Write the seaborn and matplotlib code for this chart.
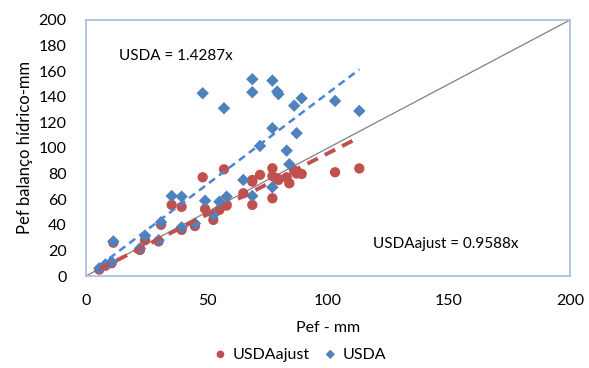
import numpy as np
import pandas as pd
import matplotlib
matplotlib.use("Agg")
import matplotlib.pyplot as plt
import seaborn as sns

# Data
pef = [5.5, 8, 10.6, 11.3, 22.3, 24.4, 30.0, 31.0, 35.4, 39.5, 39.5, 45.0,
       48.2, 49.2, 52.6, 55.1, 57.0, 58.1, 65.0, 68.7, 68.7, 68.7, 71.9,
       77.0, 77.0, 77.0, 79.0, 79.5, 82.9, 84.0, 86.0, 87.0, 89.1, 102.9, 112.9]
usda = [6, 9, 11, 27, 21.6, 31.5, 28, 42, 62.5, 62, 38, 41,
        142.7, 58.8, 47.7, 58, 131, 62, 75, 153.7, 143.5, 62.5, 101.6,
        152.6, 115.4, 69.3, 144, 142, 97.9, 87.3, 133, 111.5, 138.8, 136.7, 128.9]
usda_ajust = [5, 8, 10, 26, 20.3, 28, 27, 40, 55.5, 54, 36, 39,
              77.1, 52.3, 43.8, 51.6, 83.3, 55, 64.6, 75, 73.7, 55.5, 79,
              84.1, 78, 60.7, 76.3, 75, 77.1, 72.4, 82.3, 80, 79.7, 81, 84]
slope_usda = 1.4287
slope_ajust = 0.9588
x_ticks = [0, 50, 100, 150, 200]
y_ticks = list(range(0, 201, 20))

plt.rcParams['font.family'] = ['Lato', 'DejaVu Sans']

df = pd.DataFrame({"pef": pef, "USDA": usda, "USDAajust": usda_ajust})

fig = plt.figure(figsize=(5.89, 3.68), dpi=100)
ax = fig.add_axes([0.146, 0.25, 0.822, 0.696])

red = "#C0504D"
blue = "#4F81BD"

# 1:1 line
ax.plot([0, 200], [0, 200], color="#808080", lw=0.9, zorder=1)

sns.scatterplot(data=df, x="pef", y="USDAajust", ax=ax, color=red, marker="o",
                s=55, edgecolor="none", label="USDAajust", zorder=2)
sns.scatterplot(data=df, x="pef", y="USDA", ax=ax, color=blue, marker="D",
                s=40, edgecolor="none", label="USDA", zorder=3)

xs = np.array([min(pef), max(pef)])
ax.plot(xs, slope_usda * xs, color="#4A86D4", lw=1.8, ls=(0, (3, 2)), zorder=4)
ax.plot(xs, slope_ajust * xs, color=red, lw=2.8, ls=(0, (3, 2)), zorder=4)

ax.text(13.5, 172, f"USDA = {slope_usda}x", fontsize=11, va="center", ha="left")
ax.text(118.5, 25, f"USDAajust = {slope_ajust}x", fontsize=11, va="center", ha="left")

ax.set_xlim(0, 200)
ax.set_ylim(0, 200)
ax.set_xticks(x_ticks)
ax.set_yticks(y_ticks)
ax.tick_params(length=0, labelsize=11.5)
ax.tick_params(axis="y", pad=14)
ax.tick_params(axis="x", pad=13)
ax.set_xlabel("Pef - mm", fontsize=11.5, labelpad=9)
ax.set_ylabel("Pef balanço hídrico-mm", fontsize=12, labelpad=4)
for sp in ax.spines.values():
    sp.set_color("#A7BBDA")
    sp.set_linewidth(1.2)

ax.legend(loc="upper center", bbox_to_anchor=(0.442, -0.235), ncol=2, frameon=False,
          fontsize=11.5, handlelength=0.8, handletextpad=0.35, columnspacing=0.9,
          borderpad=0.2, markerscale=0.75)

fig.savefig("out.png", dpi=100)
